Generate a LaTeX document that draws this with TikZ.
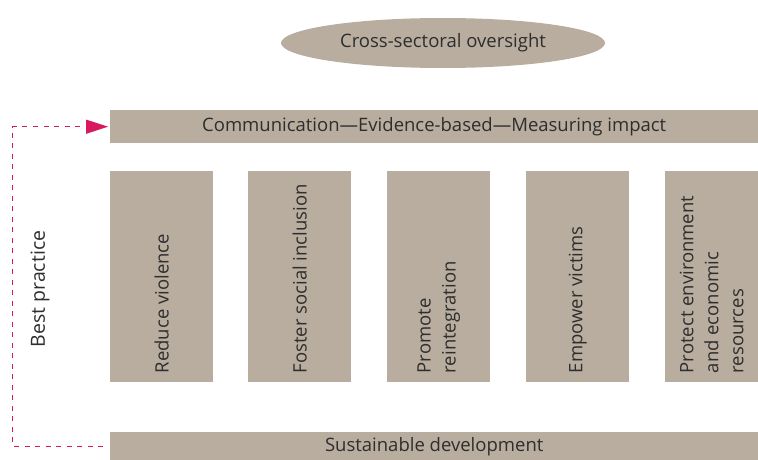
\documentclass[tikz,border=0pt]{standalone}
\usepackage{fontspec}
\setmainfont{Open Sans}
\usetikzlibrary{arrows.meta,shapes.geometric}
\definecolor{taupe}{HTML}{B8AD9F}
\definecolor{crim}{HTML}{D9195F}
\definecolor{txt}{HTML}{2E2E2E}
\begin{document}
\begin{tikzpicture}[x=1pt,y=1pt,
  box/.style={fill=taupe, draw=none, inner sep=0pt, text=txt, font=\fontsize{18.5}{22}\selectfont},
  ptxt/.style={text=txt, font=\fontsize{18.5}{25}\selectfont, align=left, inner sep=0pt, rotate=90, anchor=west},
  link/.style={crim, line width=1.3pt, dash pattern=on 5pt off 5.5pt}]
\useasboundingbox (0,0) rectangle (758,-460);
\node[box, ellipse, minimum width=324, minimum height=50] (ov) at (443,-43) {Cross-sectoral oversight};
\node[box, minimum width=648, minimum height=33, anchor=north west] (top) at (110,-110) {Communication—Evidence-based—Measuring impact};
\node[box, minimum width=648, minimum height=28, anchor=north west] (bot) at (110,-432) {Sustainable development};
\node[box, minimum width=103, minimum height=211, anchor=north west] (p1) at (110,-171) {};
\node[box, minimum width=103, minimum height=211, anchor=north west] (p2) at (248,-171) {};
\node[box, minimum width=103, minimum height=211, anchor=north west] (p3) at (387,-171) {};
\node[box, minimum width=103, minimum height=211, anchor=north west] (p4) at (526,-171) {};
\node[box, minimum width=93, minimum height=211, anchor=north west] (p5) at (665,-171) {};
\node[ptxt] (t1) at ([yshift=9pt]p1.south) {Reduce violence};
\node[ptxt] (t2) at ([yshift=9pt]p2.south) {Foster social inclusion};
\node[ptxt] (t3) at ([yshift=9pt]p3.south) {Promote\\reintegration};
\node[ptxt] (t4) at ([yshift=9pt]p4.south) {Empower victims};
\node[ptxt] (t5) at ([yshift=9pt]p5.south) {Protect environment\\and economic\\resources};
\node[text=txt, font=\fontsize{19.5}{22}\selectfont, rotate=90, inner sep=0pt] (bp) at (40,-289) {Best practice};
\coordinate (lx) at (12.5,0);
\draw[link, -{Triangle[length=22pt,width=14pt]}, shorten >=2pt]
  ([xshift=-7pt]bot.west) -- (bot.west -| lx) -- (top.west -| lx) -- (top.west);
\end{tikzpicture}
\end{document}
